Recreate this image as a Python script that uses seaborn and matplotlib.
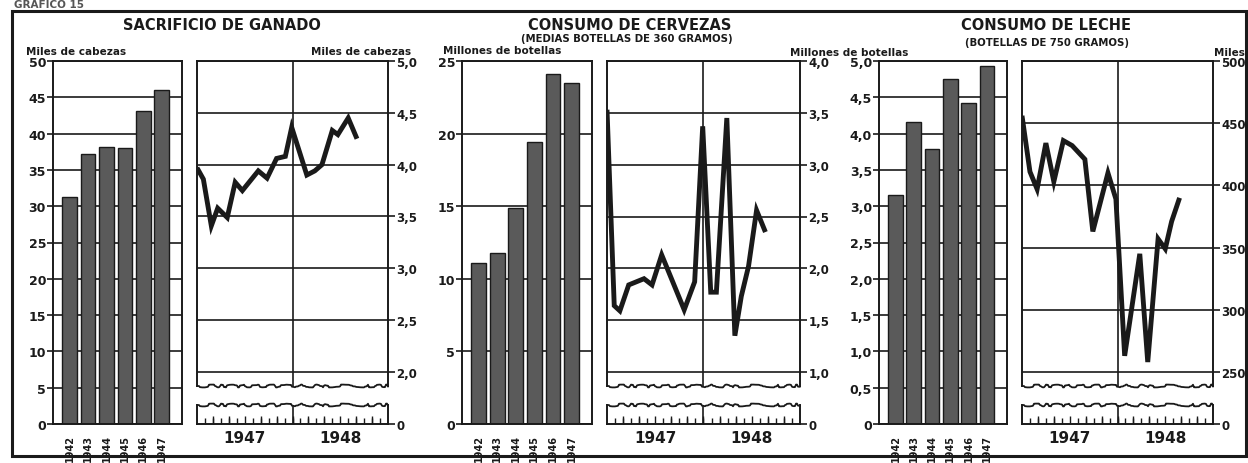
import numpy as np
import pandas as pd
import matplotlib
matplotlib.use("Agg")
import matplotlib.pyplot as plt
from matplotlib.lines import Line2D
from matplotlib.patches import Rectangle
import seaborn as sns

sns.set_theme(style="white")
plt.rcParams['font.family'] = ['DejaVu Sans']

# ---------------- DATA ----------------
anios = ["1942", "1943", "1944", "1945", "1946", "1947"]
ganado_anual = [31.2, 37.2, 38.2, 38.0, 43.1, 46.0]
cerveza_anual = [11.1, 11.8, 14.9, 19.4, 24.1, 23.5]
leche_anual = [3.15, 4.16, 3.79, 4.75, 4.42, 4.93]

# months counted from January 1947 (0) to December 1948 (23)
ganado_mes = [0, 0.8, 1.8, 2.6, 3.8, 4.8, 5.7, 7.7, 8.8, 10.0, 11.1, 11.9,
              13.8, 14.8, 15.7, 17.0, 17.7, 19.0, 20.1]
ganado_mensual = [3.97, 3.86, 3.41, 3.58, 3.49, 3.83, 3.75, 3.94, 3.87, 4.06,
                  4.08, 4.36, 3.90, 3.94, 4.00, 4.33, 4.29, 4.45, 4.25]

cerveza_mes = [0, 0.9, 1.6, 2.7, 4.6, 5.6, 6.8, 9.6, 10.9, 11.9, 12.9, 13.6,
               14.9, 15.9, 16.7, 17.6, 18.6, 19.7]
cerveza_mensual = [3.53, 1.64, 1.59, 1.84, 1.90, 1.84, 2.13, 1.60, 1.87, 3.37,
                   1.77, 1.77, 3.45, 1.35, 1.73, 2.02, 2.56, 2.35]

leche_mes = [0, 1.0, 1.9, 3.0, 4.0, 5.2, 6.3, 7.9, 8.9, 10.8, 11.8, 12.9,
             14.8, 15.8, 17.1, 18.0, 18.8, 19.8]
leche_mensual = [456, 411, 397, 434, 403, 436, 432, 421, 363, 410, 389, 263,
                 345, 258, 357, 349, 371, 390]

anios_linea = ["1947", "1948"]

# ---------------- LAYOUT ----------------
W, H = 1248, 464
fig = plt.figure(figsize=(W / 100, H / 100), dpi=100)
fig.patch.set_facecolor("white")


def rect(x0, y0, x1, y1):
    return [x0 / W, 1 - y1 / H, (x1 - x0) / W, (y1 - y0) / H]


def ftext(x, y, s, **kw):
    fig.text(x / W, 1 - y / H, s, **kw)


INK = "#1a1a1a"
BAR = "#5a5a5a"


def fmt_int(v):
    return "0" if v == 0 else f"{v:.0f}"


def fmt_dec(v):
    return "0" if v == 0 else f"{v:.1f}".replace(".", ",")


def bold_labels(labels):
    for lab in labels:
        lab.set_fontweight("bold")


def bar_panel(px, values, ymax, step, fmt):
    ax = fig.add_axes(rect(*px))
    df = pd.DataFrame({"anio": anios, "valor": values})
    sns.barplot(data=df, x="anio", y="valor", ax=ax, color=BAR, saturation=1,
                width=0.8, edgecolor=INK, linewidth=1.0)
    ax.set_xlim(-0.9, 6.1)
    ax.set_ylim(0, ymax)
    ticks = np.arange(0, ymax + step / 2, step)
    ax.set_yticks(ticks)
    ax.set_yticklabels([fmt(t) for t in ticks])
    ax.yaxis.grid(True, color=INK, lw=1.2)
    ax.set_axisbelow(True)
    ax.tick_params(axis="y", left=True, direction="out", length=4, width=1.2,
                   pad=1, labelsize=9, colors=INK)
    ax.tick_params(axis="x", bottom=False, pad=1.5, labelsize=7, labelrotation=90,
                   colors=INK)
    bold_labels(ax.get_xticklabels())
    bold_labels(ax.get_yticklabels())
    ax.set_xlabel("")
    ax.set_ylabel("")
    for s in ax.spines.values():
        s.set_color(INK)
        s.set_linewidth(1.4)
    return ax


def wavy(ax, yfrac):
    ln = Line2D([0, 1], [yfrac, yfrac], transform=ax.transAxes, color=INK,
                lw=1.3, clip_on=False)
    ln.set_sketch_params(scale=1.4, length=32, randomness=12)
    ax.add_line(ln)


def line_panel(main_px, x, y, gtop, gbottom, step, fmt):
    x0, y0, x1, y1 = main_px
    grid_bottom_px = 373.0
    # data-space bottom of main panel (axis break just below lowest gridline)
    per_px = (gtop - gbottom) / (grid_bottom_px - y0)
    ybot = gbottom - (y1 - grid_bottom_px) * per_px
    ax = fig.add_axes(rect(x0, y0, x1, y1))
    sns.lineplot(x=x, y=y, ax=ax, color=INK, lw=3.5, sort=False,
                 solid_joinstyle="miter", solid_capstyle="butt")
    ax.set_xlim(0, 24)
    ax.set_ylim(ybot, gtop)
    ticks = np.arange(gbottom, gtop + step / 2, step)
    ax.set_yticks(ticks)
    ax.set_yticklabels([fmt(t) for t in ticks])
    ax.yaxis.tick_right()
    ax.yaxis.grid(True, color=INK, lw=1.2)
    ax.axvline(12, color=INK, lw=1.2)
    ax.set_xticks([])
    ax.tick_params(axis="y", right=True, left=False, direction="out", length=5,
                   width=1.2, pad=1, labelsize=8.5, colors=INK)
    bold_labels(ax.get_yticklabels())
    ax.set_xlabel("")
    ax.set_ylabel("")
    for s in ax.spines.values():
        s.set_color(INK)
        s.set_linewidth(1.4)
    ax.spines["bottom"].set_visible(False)
    wavy(ax, 0.0)

    st = fig.add_axes(rect(x0, 406, x1, 425))
    st.set_xlim(0, 24)
    st.set_ylim(0, 1)
    st.set_yticks([0])
    st.set_yticklabels(["0"])
    st.yaxis.tick_right()
    st.tick_params(axis="y", right=True, left=False, length=5, width=1.2,
                   pad=1, labelsize=8.5, colors=INK)
    bold_labels(st.get_yticklabels())
    st.set_xticks([6, 18])
    st.set_xticklabels(anios_linea, fontsize=11, fontweight="bold", color=INK)
    st.set_xticks(np.arange(1, 24), minor=True)
    st.tick_params(axis="x", which="major", bottom=True, length=0, pad=4)
    st.tick_params(axis="x", which="minor", bottom=True, direction="in",
                   length=4, width=1.0, color=INK)
    st.vlines(np.arange(2, 24, 2), 0, 0.42, color=INK, lw=1.0)
    st.axvline(12, color=INK, lw=1.2)
    for s in st.spines.values():
        s.set_color(INK)
        s.set_linewidth(1.4)
    st.spines["top"].set_visible(False)
    wavy(st, 1.0)
    return ax


bar_panel((53, 62, 182, 425), ganado_anual, 50, 5, fmt_int)
line_panel((197, 62, 388, 387), ganado_mes, ganado_mensual, 5.0, 2.0, 0.5, fmt_dec)

bar_panel((462, 62, 592, 425), cerveza_anual, 25, 5, fmt_int)
line_panel((607, 62, 800, 387), cerveza_mes, cerveza_mensual, 4.0, 1.0, 0.5, fmt_dec)

bar_panel((879, 62, 1007, 425), leche_anual, 5.0, 0.5, fmt_dec)
line_panel((1022, 62, 1213, 387), leche_mes, leche_mensual, 500, 250, 50, fmt_int)

# ---------------- TEXTS ----------------
tkw = dict(ha="center", va="center", fontsize=10.5, fontweight="bold", color=INK)
ftext(222, 26, "SACRIFICIO DE GANADO", **tkw)
ftext(630, 25, "CONSUMO DE CERVEZAS", **tkw)
ftext(1046, 25, "CONSUMO DE LECHE", **tkw)

skw = dict(ha="center", va="center", fontsize=7.3, fontweight="bold", color=INK)
ftext(627, 39, "(MEDIAS BOTELLAS DE 360 GRAMOS)", **skw)
ftext(1047, 43, "(BOTELLAS DE 750 GRAMOS)", **skw)

lkw = dict(va="center", fontsize=7.5, fontweight="bold", color=INK)
ftext(26, 52, "Miles de cabezas", ha="left", **lkw)
ftext(411, 52, "Miles de cabezas", ha="right", **lkw)
ftext(443, 51, "Millones de botellas", ha="left", **lkw)
ftext(790, 53, "Millones de botellas", ha="left", **lkw)
ftext(1245, 53, "Miles", ha="right", **lkw)

ftext(14, 5.5, "GRAFICO 15", ha="left", va="center", fontsize=7.5,
      fontweight="bold", color="#555555")

# outer frame
fig.add_artist(Rectangle((12 / W, 1 - 457 / H), (1246 - 12) / W, (457 - 12) / H,
                         transform=fig.transFigure, fill=False, ec=INK, lw=2.2))

fig.savefig("out.png", dpi=100, facecolor="white")
